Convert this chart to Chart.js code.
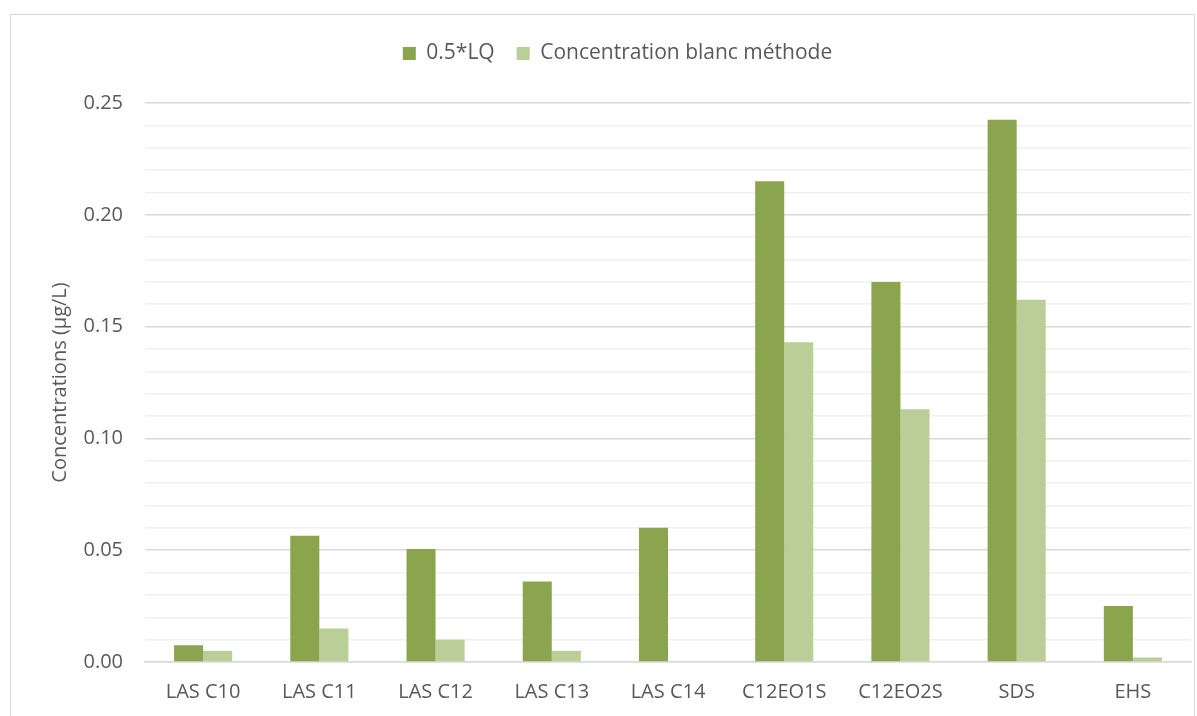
<!DOCTYPE html>
<html>
<head>
<meta charset="utf-8">
<script src="https://cdn.jsdelivr.net/npm/chart.js@4.4.1/dist/chart.umd.min.js"></script>
<style>
  body { margin: 0; background: #fff; }
  #wrap {
    position: absolute; left: 10px; top: 14px;
    width: 1185px; height: 710px;
    border: 1px solid #d9d9d9; box-sizing: border-box;
  }
</style>
</head>
<body>
<div id="wrap"><canvas id="chart"></canvas></div>
<script>
const categories = ["LAS C10", "LAS C11", "LAS C12", "LAS C13", "LAS C14", "C12EO1S", "C12EO2S", "SDS", "EHS"]
const halfLQ = [0.0075, 0.0565, 0.0505, 0.036, 0.06, 0.215, 0.17, 0.2425, 0.025]
const blankConc = [0.005, 0.015, 0.01, 0.005, null, 0.143, 0.113, 0.162, 0.002]
const yTicks = [0, 0.05, 0.10, 0.15, 0.20, 0.25]

const textColor = "#595959"
const fontFamily = "'Open Sans', Lato, sans-serif"
const fontSize = 20

// major lines every 0.05, faint ones every 0.01
function isMajor(v){
    return yTicks.some(t => Math.abs(t - v) < 1e-6)
}

// extra room between the legend and the plot
const legendGap = {
    id: 'legendGap',
    beforeInit(chart){
        const fit = chart.legend.fit
        chart.legend.fit = function(){
            fit.bind(chart.legend)()
            this.height += 29
        }
    }
}

new Chart(document.getElementById("chart"), {
    type: 'bar',
    data: {
        labels: categories,
        datasets: [
            { label: '0.5*LQ', data: halfLQ, backgroundColor: '#8aa54e' },
            { label: 'Concentration blanc méthode', data: blankConc, backgroundColor: '#b9cf97' }
        ]
    },
    plugins: [legendGap],
    options: {
        responsive: true,
        maintainAspectRatio: false,
        animation: false,
        layout: { padding: { top: 6, right: 3, bottom: 9, left: 33 } },
        datasets: { bar: { barPercentage: 1, categoryPercentage: 0.5 } },
        scales: {
            x: {
                grid: { display: false },
                border: { color: '#d9d9d9', width: 1.5 },
                ticks: { color: textColor, font: { family: fontFamily, size: fontSize }, padding: 10 }
            },
            y: {
                min: 0,
                max: 0.25,
                afterFit: axis => { axis.width = 101 },
                border: { display: false },
                grid: {
                    drawTicks: false,
                    color: ctx => isMajor(ctx.tick.value) ? '#d9d9d9' : '#f0f0f0',
                    lineWidth: 1.5
                },
                ticks: {
                    stepSize: 0.01,
                    autoSkip: false,
                    padding: 22,
                    color: textColor,
                    font: { family: fontFamily, size: fontSize },
                    callback: value => isMajor(value) ? value.toFixed(2) : ''
                },
                title: {
                    display: true,
                    text: 'Concentrations (µg/L)',
                    color: textColor,
                    font: { family: fontFamily, size: fontSize },
                    padding: { top: 4, bottom: 0 }
                }
            }
        },
        plugins: {
            legend: {
                position: 'top',
                labels: {
                    color: textColor,
                    font: { family: fontFamily, size: 21 },
                    boxWidth: 13,
                    boxHeight: 13,
                    padding: 22
                }
            },
            tooltip: { enabled: false }
        }
    }
})
</script>
</body>
</html>
